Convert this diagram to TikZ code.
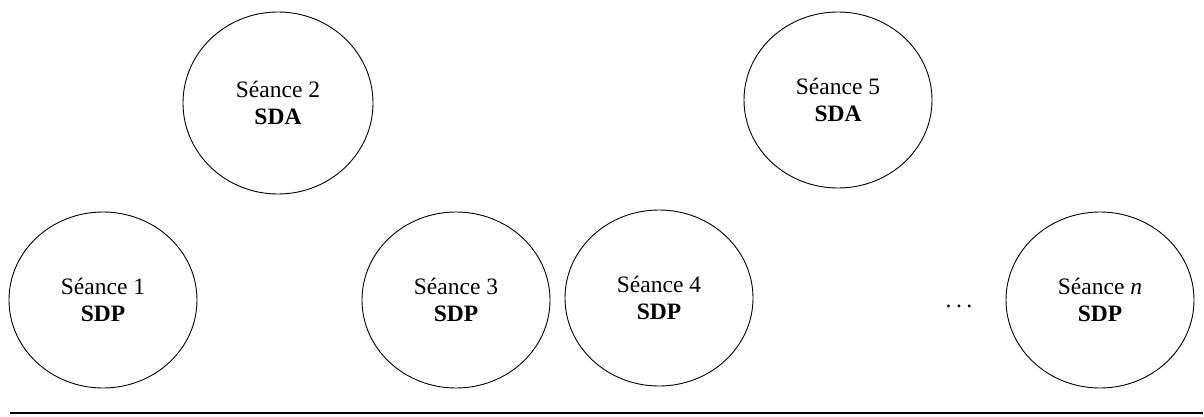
\documentclass[tikz,border=0pt]{standalone}
\usepackage{fontspec}
\setmainfont{Liberation Serif}
\usetikzlibrary{shapes.geometric}

\begin{document}
\begin{tikzpicture}[x=1pt,y=1pt,
    seance/.style={draw,ellipse,line width=0.9pt,minimum width=188pt,minimum height=176pt,
                   align=center,font=\fontsize{23.5}{27}\selectfont}]
    \useasboundingbox (0,0) rectangle (1204,416);

    \node (1) at (103,116) [seance] {Séance 1\\\textbf{SDP}};
    \node (2) at (278,313) [seance,minimum width=190pt,minimum height=182pt] {Séance 2\\\textbf{SDA}};
    \node (3) at (456,116) [seance] {Séance 3\\\textbf{SDP}};
    \node (4) at (659,118) [seance] {Séance 4\\\textbf{SDP}};
    \node (5) at (838,316) [seance] {Séance 5\\\textbf{SDA}};
    \node (n) at (1100,116) [seance] {Séance \textit{n}\\\textbf{SDP}};
    \node (dots) at (959,110) [font=\fontsize{23.5}{27}\selectfont] {.\hspace{4.5pt}.\hspace{4.5pt}.};

    \coordinate (start) at (10,3);
    \coordinate (end) at (1203,3);
    \draw[-,line width=1.8pt] (start) to (end);

\end{tikzpicture}
\end{document}
